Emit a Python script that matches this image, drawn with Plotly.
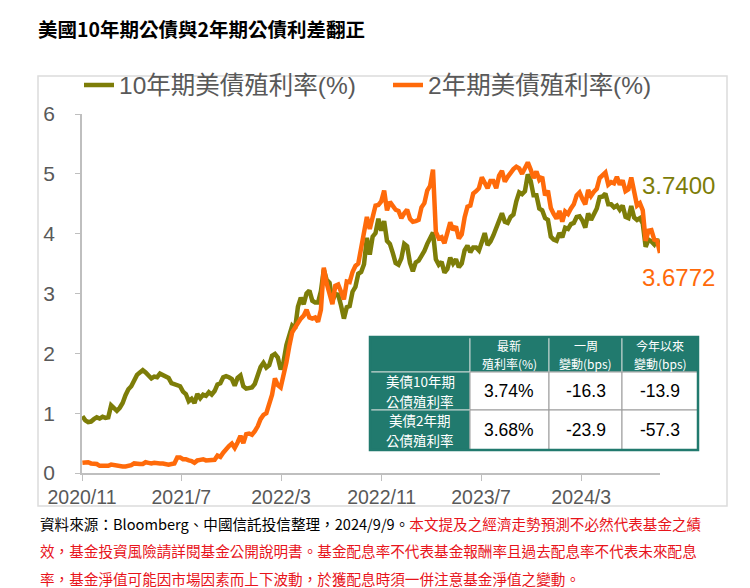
import pandas as pd
import plotly.graph_objects as go

# weekly closes (Mondays), 2020/11/2 - 2024/9/9
start_date = "2020-11-02"

ust10y = [
    # 2020
    0.95, 0.88, 0.85, 0.86, 0.90, 0.93, 0.91, 0.94, 0.92,
    # 2021
    0.93, 1.13, 1.09, 1.04, 1.09, 1.17, 1.30, 1.40, 1.45, 1.55, 1.64, 1.68, 1.72,
    1.68, 1.62, 1.58, 1.61, 1.60, 1.66, 1.63, 1.60, 1.59, 1.50, 1.48, 1.48, 1.45,
    1.36, 1.32, 1.20, 1.24, 1.17, 1.32, 1.25, 1.31, 1.29, 1.35, 1.31, 1.37, 1.48,
    1.50, 1.60, 1.62, 1.60, 1.57, 1.46, 1.59, 1.63, 1.45, 1.41, 1.42, 1.43, 1.49,
    # 2022
    1.65, 1.77, 1.84, 1.76, 1.80, 1.96, 1.99, 1.93, 1.73, 1.86, 2.14, 2.32, 2.46,
    2.41, 2.78, 2.93, 2.82, 3.00, 3.05, 2.88, 2.85, 2.85, 3.04, 3.40, 3.23, 3.18,
    2.88, 2.99, 2.98, 2.80, 2.58, 2.77, 2.79, 3.03, 3.11, 3.33, 3.36, 3.49, 3.93,
    3.65, 3.95, 4.01, 4.25, 4.05, 4.21, 3.88, 3.83, 3.68, 3.51, 3.48, 3.59, 3.83,
    # 2023
    3.79, 3.51, 3.37, 3.52, 3.55, 3.63, 3.71, 3.83, 3.92, 4.02, 3.57, 3.48, 3.53,
    3.35, 3.41, 3.60, 3.50, 3.57, 3.44, 3.50, 3.72, 3.80, 3.69, 3.77, 3.77, 3.72,
    3.86, 4.01, 3.81, 3.87, 3.97, 4.09, 4.19, 4.34, 4.20, 4.18, 4.28, 4.32, 4.54,
    4.69, 4.66, 4.71, 4.99, 4.88, 4.64, 4.64, 4.42, 4.39, 4.26, 4.23, 3.95, 3.90,
    # 2024
    3.88, 4.01, 3.94, 4.10, 4.08, 4.16, 4.18, 4.28, 4.29, 4.22, 4.10, 4.34, 4.23,
    4.33, 4.42, 4.61, 4.62, 4.67, 4.49, 4.49, 4.44, 4.47, 4.40, 4.47, 4.28, 4.26,
    4.46, 4.27, 4.23, 4.26, 4.17, 3.78, 3.90, 3.87, 3.82, 3.91, 3.74,
]

ust2y = [
    # 2020
    0.17, 0.18, 0.18, 0.16, 0.15, 0.15, 0.12, 0.12, 0.12,
    # 2021
    0.12, 0.14, 0.13, 0.12, 0.11, 0.11, 0.11, 0.12, 0.13, 0.16, 0.15, 0.15, 0.15,
    0.18, 0.17, 0.16, 0.17, 0.16, 0.16, 0.16, 0.15, 0.14, 0.15, 0.16, 0.26, 0.26,
    0.23, 0.23, 0.21, 0.20, 0.17, 0.21, 0.22, 0.23, 0.21, 0.21, 0.21, 0.22, 0.29,
    0.27, 0.34, 0.41, 0.45, 0.49, 0.42, 0.51, 0.62, 0.50, 0.65, 0.66, 0.64, 0.70,
    # 2022
    0.78, 0.90, 0.97, 1.00, 1.18, 1.31, 1.58, 1.47, 1.43, 1.62, 1.85, 2.12, 2.35,
    2.43, 2.51, 2.58, 2.63, 2.73, 2.60, 2.58, 2.60, 2.53, 2.73, 3.43, 3.17, 3.00,
    2.82, 3.13, 3.15, 3.03, 2.90, 3.20, 3.19, 3.36, 3.46, 3.50, 3.77, 3.97, 4.28,
    4.08, 4.31, 4.47, 4.48, 4.54, 4.72, 4.39, 4.53, 4.47, 4.40, 4.38, 4.26, 4.34,
    # 2023
    4.40, 4.25, 4.20, 4.21, 4.23, 4.44, 4.51, 4.72, 4.80, 5.07, 4.03, 3.92, 3.94,
    3.84, 3.99, 4.19, 4.06, 4.12, 3.92, 3.99, 4.27, 4.45, 4.47, 4.67, 4.71, 4.76,
    4.94, 4.86, 4.76, 4.88, 4.88, 4.76, 4.97, 5.05, 4.87, 4.95, 5.02, 5.08, 5.12,
    5.09, 5.00, 5.10, 5.19, 5.07, 4.93, 5.04, 4.90, 4.95, 4.64, 4.72, 4.43, 4.33,
    # 2024
    4.25, 4.38, 4.20, 4.37, 4.33, 4.42, 4.49, 4.64, 4.69, 4.58, 4.49, 4.73, 4.63,
    4.70, 4.75, 4.93, 4.99, 5.02, 4.82, 4.86, 4.84, 4.95, 4.82, 4.89, 4.71, 4.74,
    4.94, 4.67, 4.47, 4.51, 4.39, 3.88, 4.05, 4.06, 3.90, 3.88, 3.6772,
]

tick_dates = ["2020-11-01", "2021-07-01", "2022-03-01", "2022-11-01", "2023-07-01", "2024-03-01"]
tick_labels = ["2020/11", "2021/7", "2022/3", "2022/11", "2023/7", "2024/3"]
y_ticks = [0, 1, 2, 3, 4, 5, 6]

table_header = ["", "最新<br>殖利率(%)", "一周<br>變動(bps)", "今年以來<br>變動(bps)"]
table_names = ["美債10年期<br>公債殖利率", "美債2年期<br>公債殖利率"]
latest_yield = ["3.74%", "3.68%"]
week_change = ["-16.3", "-23.9"]
ytd_change = ["-13.9", "-57.3"]

title_text = "美國10年期公債與2年期公債利差翻正"
source_text = "資料來源：Bloomberg、中國信託投信整理，2024/9/9。"
disclaimer_lines = [
    "本文提及之經濟走勢預測不必然代表基金之績",
    "效，基金投資風險請詳閱基金公開說明書。基金配息率不代表基金報酬率且過去配息率不代表未來配息",
    "率，基金淨值可能因市場因素而上下波動，於獲配息時須一併注意基金淨值之變動。",
]

OLIVE = "#7d7d08"
ORANGE = "#ff6a0a"
TEAL = "#217a6e"
GREY = "#595959"
RED = "#e8141b"
FONT = "Liberation Sans, Noto Sans CJK TC, sans-serif"
CJK = "Noto Sans CJK TC, sans-serif"

# paper = the grey frame, 689 x 430 px
PW, PH = 689, 430

dates = pd.date_range(start_date, periods=len(ust10y), freq="7D")

fig = go.Figure()

fig.add_trace(go.Scatter(
    x=dates, y=ust10y, mode="lines", name="10年期美債殖利率(%)",
    line=dict(color=OLIVE, width=4.5),
))
fig.add_trace(go.Scatter(
    x=dates, y=ust2y, mode="lines", name="2年期美債殖利率(%)",
    line=dict(color=ORANGE, width=4.5),
))

# chart frame
fig.add_shape(type="rect", xref="paper", yref="paper",
              x0=0, x1=1, y0=0, y1=1,
              line=dict(color="#dcdcdc", width=1.5))

# summary table drawn from shapes + annotations
col_w = [100, 79, 73, 76]
row_h = [35, 38, 40]
tx0, ty0 = 332, 169  # px from frame left / bottom (top edge of table)
body = [table_names, latest_yield, week_change, ytd_change]

x_edges = [tx0]
for w in col_w:
    x_edges.append(x_edges[-1] + w)
y_edges = [ty0]
for h in row_h:
    y_edges.append(y_edges[-1] - h)


def cell_text(text, cx, cy, size, color, fam, gap):
    # one annotation per line so the line spacing can be kept tight
    lines = text.split("<br>")
    for k, part in enumerate(lines):
        off = (len(lines) - 1) / 2 - k
        fig.add_annotation(
            xref="paper", yref="paper", x=cx / PW, y=(cy + off * gap) / PH,
            xanchor="center", yanchor="middle", showarrow=False,
            text=part, borderpad=0,
            font=dict(size=size, color=color, family=fam),
        )


for r in range(len(row_h)):
    for c in range(len(col_w)):
        teal = r == 0 or c == 0
        fig.add_shape(
            type="rect", xref="paper", yref="paper",
            x0=x_edges[c] / PW, x1=x_edges[c + 1] / PW,
            y0=y_edges[r + 1] / PH, y1=y_edges[r] / PH,
            fillcolor=TEAL if teal else "white",
            line=dict(color="#c9d6d3" if teal else "#9a9a9a", width=1),
            layer="above",
        )
        cx = (x_edges[c] + x_edges[c + 1]) / 2
        cy = (y_edges[r] + y_edges[r + 1]) / 2
        if r == 0:
            if table_header[c]:
                cell_text(table_header[c], cx, cy, 12, "white", CJK, 17.5)
        elif c == 0:
            cell_text(body[0][r - 1], cx, cy, 13.5, "white", CJK, 19.5)
        else:
            cell_text(body[c][r - 1], cx, cy, 17.5, "black", FONT, 0)

fig.add_shape(type="rect", xref="paper", yref="paper",
              x0=x_edges[0] / PW, x1=x_edges[-1] / PW,
              y0=y_edges[-1] / PH, y1=y_edges[0] / PH,
              line=dict(color=TEAL, width=2.5), layer="above")

# end value labels
fig.add_annotation(xref="paper", yref="paper", x=602 / PW, y=321 / PH,
                   xanchor="left", yanchor="middle", showarrow=False,
                   text=f"{ust10y[-1]:.4f}", font=dict(color=OLIVE, size=24, family=FONT))
fig.add_annotation(xref="paper", yref="paper", x=602 / PW, y=229 / PH,
                   xanchor="left", yanchor="middle", showarrow=False,
                   text=f"{ust2y[-1]:.4f}", font=dict(color=ORANGE, size=24, family=FONT))

# footer
footer = [
    f"{source_text}<span style='color:{RED}'>{disclaimer_lines[0]}</span>",
    f"<span style='color:{RED}'>{disclaimer_lines[1]}</span>",
    f"<span style='color:{RED}'>{disclaimer_lines[2]}</span>",
]
for i, line in enumerate(footer):
    fig.add_annotation(xref="paper", yref="paper", x=0, y=-(17 + i * 27.5) / PH,
                       xanchor="left", yanchor="middle", showarrow=False,
                       text=line, font=dict(color="black", size=14.6, family=CJK))

fig.update_layout(
    width=742, height=580,
    margin=dict(l=30, r=23, t=68, b=82, autoexpand=False),
    paper_bgcolor="white", plot_bgcolor="white",
    title=dict(text=f"<b>{title_text}</b>", x=30 / 742, xanchor="left",
               y=1 - 22 / 580, yanchor="middle",
               font=dict(size=19.5, color="black", family=CJK)),
    legend=dict(orientation="h", x=41 / PW, y=421 / PH, xanchor="left", yanchor="middle",
                font=dict(size=24.5, color=GREY, family=FONT), bgcolor="rgba(0,0,0,0)",
                itemwidth=30, entrywidth=264, entrywidthmode="pixels"),
    showlegend=True,
    xaxis=dict(
        domain=[44 / PW, 622 / PW], automargin=False,
        range=["2020-11-01", "2024-09-09"],
        tickvals=tick_dates, ticktext=tick_labels,
        showgrid=False, zeroline=False,
        showline=True, linecolor="#bfbfbf", linewidth=1.5,
        ticks="outside", ticklen=6, tickcolor="#bfbfbf",
        tickfont=dict(size=19.5, color=GREY, family=FONT),
    ),
    yaxis=dict(
        domain=[33 / PH, 392 / PH], automargin=False,
        range=[0, 6], tickvals=y_ticks,
        showgrid=False, zeroline=False,
        showline=True, linecolor="#bfbfbf", linewidth=1.5,
        ticks="outside", ticklen=5, tickcolor="#bfbfbf",
        tickfont=dict(size=21, color=GREY, family=FONT),
        ticklabelstandoff=16,
    ),
)

fig.write_html("out.html")
